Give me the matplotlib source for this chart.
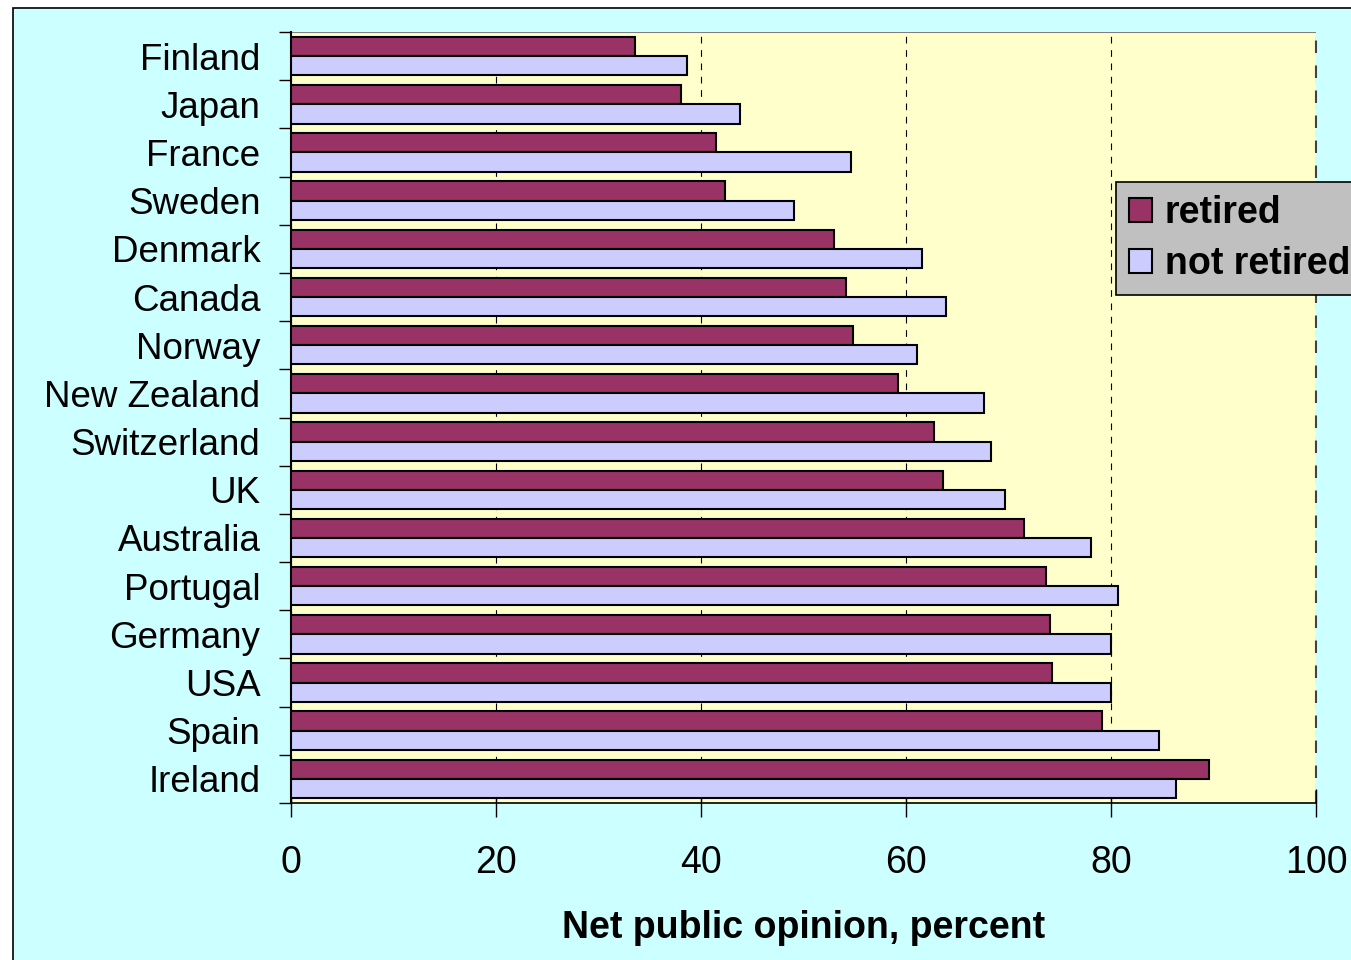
import matplotlib.pyplot as plt
import matplotlib.patches as mpatches
import numpy as np

plt.rcParams['font.family'] = ['Liberation Sans', 'DejaVu Sans']

paises = ['Finland', 'Japan', 'France', 'Sweden', 'Denmark', 'Canada', 'Norway',
          'New Zealand', 'Switzerland', 'UK', 'Australia', 'Portugal', 'Germany',
          'USA', 'Spain', 'Ireland']
retired = [33.6, 38.0, 41.5, 42.3, 53.0, 54.1, 54.8, 59.2, 62.7, 63.6,
           71.5, 73.7, 74.0, 74.2, 79.1, 89.6]
not_retired = [38.6, 43.8, 54.6, 49.1, 61.6, 63.9, 61.1, 67.6, 68.3, 69.7,
               78.0, 80.7, 80.0, 80.0, 84.7, 86.3]
xticks = [0, 20, 40, 60, 80, 100]

figura = plt.figure(figsize=(13.51, 9.6), dpi=100, facecolor='white')
# fondo celeste con borde negro
figura.patches.append(mpatches.Rectangle((13 / 1351, -0.1), 1.2, 1 - 8 / 960 + 0.1,
                                         transform=figura.transFigure,
                                         facecolor='#CCFFFF', edgecolor='black',
                                         linewidth=1.2, zorder=-10))

grafico = figura.add_axes([291 / 1351, 1 - 803 / 960, (1316 - 291) / 1351, (803 - 32) / 960])
grafico.set_facecolor('#FFFFCC')

y = np.arange(len(paises))
h = 0.4
grafico.barh(y - h / 2, retired, height=h, color='#993366', edgecolor='black',
             linewidth=1.5, label='retired', zorder=3)
grafico.barh(y + h / 2, not_retired, height=h, color='#CCCCFF', edgecolor='black',
             linewidth=1.5, label='not retired', zorder=3)

grafico.set_xlim(0, 100)
grafico.set_ylim(len(paises) - 0.5, -0.5)

grafico.set_xticks(xticks)
grafico.set_xticklabels([str(t) for t in xticks], fontsize=27)
grafico.tick_params(axis='x', direction='inout', length=20, width=1, pad=20)
grafico.xaxis.grid(True, linestyle=(0, (6, 6)), color='black', linewidth=0.8, zorder=1)
grafico.axvline(100, linestyle=(0, (6, 6)), color='#444444', linewidth=1.5, zorder=1,
                clip_on=False)

grafico.set_yticks(y)
grafico.set_yticklabels(paises, fontsize=26.5)
grafico.tick_params(axis='y', which='major', length=0, pad=22)
grafico.set_yticks(np.arange(len(paises) + 1) - 0.5, minor=True)
grafico.tick_params(axis='y', which='minor', direction='out', length=9, width=1)

for lado in ['top', 'right']:
    grafico.spines[lado].set_visible(False)
grafico.spines['left'].set_linewidth(1.5)
grafico.spines['bottom'].set_linewidth(1.2)
grafico.axhline(-0.5, color='gray', linewidth=1.5, zorder=2)

grafico.set_xlabel('Net public opinion, percent', fontsize=27, fontweight='bold', labelpad=21)

leyenda = grafico.legend(loc='upper left', bbox_to_anchor=(1116 / 1351, 1 - 182 / 960),
                         bbox_transform=figura.transFigure, borderaxespad=0,
                         fancybox=False, framealpha=1, facecolor='#C0C0C0',
                         edgecolor='black', handlelength=0.6, handleheight=0.6,
                         handletextpad=0.35, borderpad=0.35, labelspacing=0.4,
                         prop={'size': 27, 'weight': 'bold'})
leyenda.get_frame().set_linewidth(1.2)

figura.savefig('out.png', dpi=100, facecolor=figura.get_facecolor())
